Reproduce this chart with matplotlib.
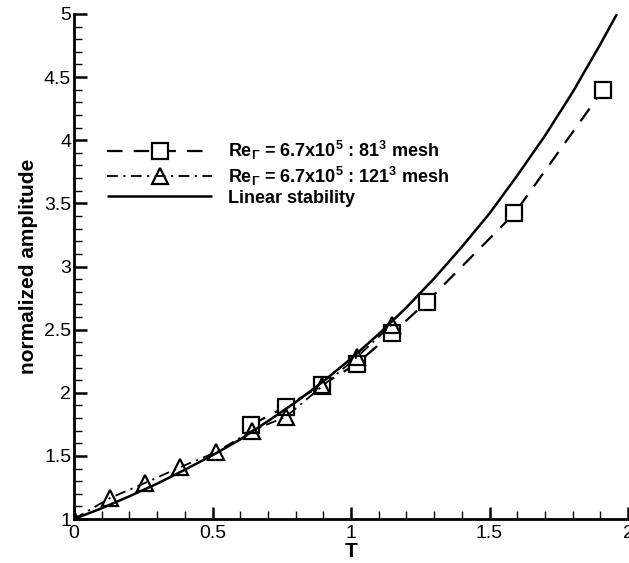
import matplotlib
matplotlib.use("Agg")
import matplotlib.pyplot as plt
from matplotlib.ticker import MultipleLocator

plt.rcParams['font.family'] = ['Liberation Sans', 'DejaVu Sans']
plt.rcParams['mathtext.fontset'] = 'custom'
plt.rcParams['mathtext.rm'] = 'Liberation Sans:bold'
plt.rcParams['mathtext.it'] = 'Liberation Sans:bold'
plt.rcParams['mathtext.bf'] = 'Liberation Sans:bold'

# Re = 6.7x10^5, 81^3 mesh (squares)
t_81 = [0.64, 0.765, 0.895, 1.02, 1.148, 1.274, 1.59, 1.91]
amp_81 = [1.745, 1.89, 2.06, 2.23, 2.47, 2.72, 3.42, 4.40]

# Re = 6.7x10^5, 121^3 mesh (triangles)
t_121 = [0.0, 0.13, 0.256, 0.383, 0.513, 0.643, 0.765, 0.895, 1.02, 1.148]
amp_121 = [1.0, 1.166, 1.285, 1.41, 1.53, 1.70, 1.81, 2.05, 2.28, 2.54]

# linear stability curve
t_lin = [0.0, 0.1, 0.2, 0.3, 0.4, 0.5, 0.6, 0.7, 0.8, 0.9, 1.0,
         1.1, 1.2, 1.3, 1.4, 1.5, 1.6, 1.7, 1.8, 1.9, 1.96]
amp_lin = [1.00, 1.085, 1.18, 1.28, 1.39, 1.505, 1.63, 1.775, 1.925, 2.09, 2.27,
           2.465, 2.675, 2.905, 3.155, 3.42, 3.72, 4.035, 4.38, 4.76, 5.0]

labels = [r'Re$_\Gamma$ = 6.7x10$^5$ : 81$^3$ mesh',
          r'Re$_\Gamma$ = 6.7x10$^5$ : 121$^3$ mesh',
          'Linear stability']

fig = plt.figure(figsize=(6.29, 5.63), dpi=100)
ax = fig.add_axes([74/629, 44/563, 554/629, 505/563])

ax.plot(t_81, amp_81, color='black', lw=1.6, dashes=(7, 5),
        marker='s', ms=11, mfc='white', mec='black', mew=1.6, label=labels[0])
ax.plot(t_121, amp_121, color='black', lw=1.3, dashes=(6, 3, 1.2, 3),
        marker='^', ms=12, mfc='none', mec='black', mew=1.6, label=labels[1])
ax.plot(t_lin, amp_lin, color='black', lw=1.8, solid_capstyle='butt', label=labels[2])

ax.set_xlim(0, 2)
ax.set_ylim(1, 5)
ax.xaxis.set_minor_locator(MultipleLocator(0.1))
ax.yaxis.set_minor_locator(MultipleLocator(0.1))
ax.set_xticks([0, 0.5, 1, 1.5, 2])
ax.set_xticklabels(['0', '0.5', '1', '1.5', '2'])
ax.set_yticks([1, 1.5, 2, 2.5, 3, 3.5, 4, 4.5, 5])
ax.set_yticklabels(['1', '1.5', '2', '2.5', '3', '3.5', '4', '4.5', '5'])

for side in ['top', 'right']:
    ax.spines[side].set_visible(False)
for side in ['left', 'bottom']:
    ax.spines[side].set_linewidth(2.0)

ax.tick_params(which='major', direction='in', length=9, width=1.8,
               labelsize=14, pad=2)
ax.tick_params(which='minor', direction='in', length=5.5, width=1.0)
ax.tick_params(axis='x', which='major', pad=4)

ax.set_xlabel('T', fontsize=15, fontweight='bold', labelpad=0)
ax.set_ylabel('normalized amplitude', fontsize=15, fontweight='bold', labelpad=4)

ax.legend(loc='upper left', bbox_to_anchor=(0.06, 0.752), frameon=False,
          handlelength=5.8, handletextpad=0.9,
          labelspacing=0.12, borderpad=0, borderaxespad=0,
          prop={'weight': 'bold', 'size': 13})

fig.savefig('out.png', dpi=100)
